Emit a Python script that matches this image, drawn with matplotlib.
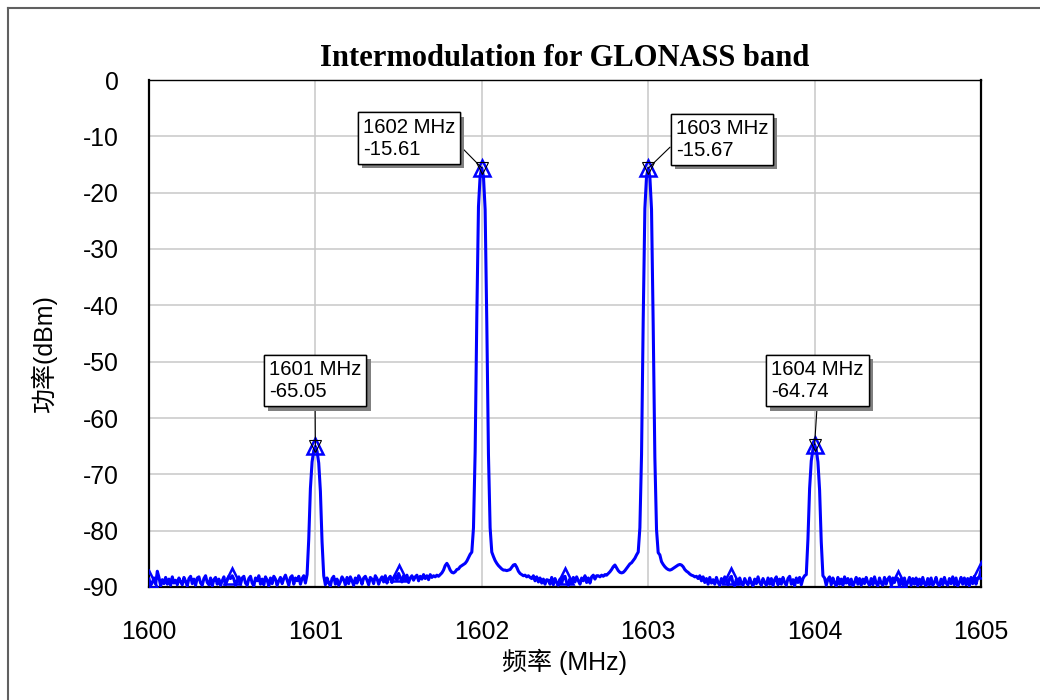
import numpy as np
import matplotlib
matplotlib.use("Agg")
import matplotlib.pyplot as plt
from matplotlib import patheffects
from matplotlib.lines import Line2D

plt.rcParams['font.family'] = ['Liberation Sans', 'Noto Sans CJK SC', 'DejaVu Sans']
plt.rcParams['axes.unicode_minus'] = False

############## Daten ##############
# Spektrum 1600 ... 1605 MHz, Schritt 0.01 MHz (501 Punkte), Werte in dBm
power = [
    -88.6, -89.7, -89.2, -88.4, -89.5, -87.2, -88.3, -89.8, -88.7, -89.4,  # 1600.0
    -88.3, -89.5, -88.6, -89.7, -88.2, -89.3, -88.8, -89.6, -88.4, -89.1,
    -89.6, -88.3, -89.0, -89.8, -88.5, -88.1, -89.4, -88.6, -89.7, -88.4,
    -88.2, -89.3, -89.7, -88.5, -88.0, -89.2, -89.6, -88.4, -89.8, -88.7,
    -88.3, -89.5, -88.6, -89.7, -88.9, -88.2, -89.6, -88.8, -88.1, -88.5,
    -88.0, -88.6, -89.7, -88.9, -88.2, -89.5, -88.4, -88.1, -89.3, -89.7,  # 1600.5
    -88.5, -88.1, -89.3, -89.8, -88.4, -88.9, -88.0, -89.5, -88.6, -89.6,
    -88.2, -88.8, -89.8, -88.4, -89.4, -88.1, -88.6, -89.7, -88.9, -88.3,
    -89.4, -88.5, -87.9, -88.8, -89.7, -88.3, -88.0, -89.5, -88.4, -88.9,
    -88.1, -89.5, -88.5, -88.0, -89.3, -87.8, -81.5, -72.5, -67.8, -65.8,
    -65.05, -65.9, -68.0, -73.0, -82.0, -88.0, -89.6, -88.4, -89.3, -89.8,  # 1601.0
    -88.5, -88.1, -89.5, -88.6, -89.7, -89.1, -88.2, -88.7, -89.6, -88.3,
    -89.4, -88.2, -88.9, -89.7, -88.4, -89.3, -88.0, -88.6, -89.5, -88.4,
    -88.1, -88.8, -89.6, -88.3, -88.6, -89.4, -88.0, -88.5, -89.5, -88.7,
    -88.2, -89.1, -88.0, -89.3, -88.5, -88.1, -89.2, -88.4, -87.9, -88.8,
    -87.6, -88.3, -89.1, -88.0, -88.7, -87.9, -89.2, -88.4, -88.0, -88.8,  # 1601.5
    -88.2, -87.9, -88.9, -88.1, -88.6, -87.8, -88.5, -88.0, -88.7, -87.8,
    -88.3, -88.0, -88.2, -87.9, -88.1, -87.8, -87.5, -87.0, -86.2, -85.8,
    -86.3, -87.0, -87.4, -87.5, -87.3, -86.9, -86.8, -86.4, -86.2, -86.0,
    -85.8, -85.4, -84.8, -84.2, -83.8, -79.5, -66.0, -42.0, -22.5, -17.0,
    -15.61, -17.1, -23.0, -43.0, -66.5, -79.5, -83.8, -84.6, -85.3, -85.8,  # 1602.0
    -86.2, -86.5, -86.8, -87.0, -87.0, -87.1, -87.0, -86.9, -86.5, -86.1,
    -86.0, -86.5, -87.2, -87.6, -87.8, -88.0, -87.9, -88.2, -88.0, -88.3,
    -88.5, -88.0, -88.9, -88.2, -89.1, -88.4, -89.3, -88.6, -89.5, -88.7,
    -88.8, -89.5, -88.3, -89.6, -88.5, -89.2, -89.7, -88.6, -89.4, -88.2,
    -88.1, -89.2, -89.7, -88.5, -89.4, -88.3, -89.1, -88.2, -88.9, -89.5,  # 1602.5
    -88.4, -88.9, -88.0, -89.2, -88.4, -89.3, -88.2, -87.9, -88.6, -88.0,
    -88.0, -88.2, -87.9, -88.1, -87.8, -87.9, -87.6, -87.3, -86.9, -86.4,
    -86.1, -86.6, -87.1, -87.4, -87.5, -87.4, -87.1, -86.7, -86.3, -85.9,
    -85.7, -85.3, -84.9, -84.3, -83.8, -79.5, -66.5, -42.5, -22.8, -17.1,
    -15.67, -17.2, -23.0, -43.5, -67.0, -79.8, -83.9, -84.3, -85.5, -86.0,  # 1603.0
    -86.4, -86.7, -86.9, -87.0, -86.9, -86.7, -86.5, -86.3, -86.1, -86.0,
    -86.1, -86.4, -86.9, -87.2, -87.4, -87.7, -87.9, -88.0, -88.2, -88.1,
    -88.5, -88.0, -88.9, -88.2, -89.2, -88.5, -89.5, -88.3, -89.3, -88.7,
    -89.5, -88.3, -89.2, -89.7, -88.5, -89.4, -88.2, -88.8, -89.6, -88.4,
    -88.1, -89.4, -89.8, -88.6, -89.5, -88.4, -89.3, -89.7, -88.5, -89.2,  # 1603.5
    -89.6, -88.4, -89.3, -89.8, -88.6, -89.4, -88.2, -89.2, -89.7, -88.5,
    -89.2, -89.7, -88.4, -89.5, -88.5, -89.8, -88.7, -88.2, -89.6, -88.6,
    -89.5, -88.3, -89.2, -89.7, -88.5, -88.1, -89.5, -88.7, -89.8, -88.4,
    -89.2, -88.3, -89.6, -88.5, -88.0, -87.8, -81.5, -72.5, -67.6, -65.6,
    -64.74, -65.6, -67.8, -72.8, -82.0, -88.0, -88.4, -89.7, -88.6, -88.2,  # 1604.0
    -89.6, -88.4, -89.3, -89.8, -88.3, -89.5, -88.6, -89.7, -88.2, -89.3,
    -88.5, -89.6, -88.6, -89.8, -89.2, -88.3, -89.5, -88.5, -89.7, -88.6,
    -89.4, -88.3, -89.2, -89.7, -88.5, -89.6, -88.2, -89.3, -89.8, -88.4,
    -89.3, -89.7, -88.3, -89.5, -88.6, -88.2, -89.6, -88.4, -89.2, -88.3,
    -88.5, -89.8, -88.5, -89.6, -88.4, -89.8, -89.2, -88.3, -89.7, -88.5,  # 1604.5
    -89.5, -88.4, -89.8, -88.6, -89.6, -88.3, -89.4, -89.8, -88.5, -89.6,
    -88.4, -89.7, -89.2, -88.3, -89.5, -89.8, -88.6, -89.6, -88.3, -89.3,
    -89.7, -88.5, -89.4, -88.2, -89.6, -88.4, -89.8, -89.2, -88.3, -89.5,
    -88.4, -89.6, -88.5, -89.8, -88.3, -89.4, -88.1, -89.5, -88.4, -88.2,
    -87.0,  # 1605.0
]
freq = np.linspace(1600, 1605, len(power))

# Marker
marker_freqs = [1601, 1602, 1603, 1604]
marker_vals = [-65.05, -15.61, -15.67, -64.74]
marker_labels = ["1601 MHz\n-65.05", "1602 MHz\n-15.61", "1603 MHz\n-15.67", "1604 MHz\n-64.74"]
label_pos = [(1600.998, -53.4), (1601.5625, -10.3), (1603.443, -10.6), (1604.017, -53.4)]
label_relpos = [(0.5, 0.0), (1.0, 0.43), (0.0, 0.45), (0.5, 0.0)]

xticks = [1600, 1601, 1602, 1603, 1604, 1605]
yticks = [0, -10, -20, -30, -40, -50, -60, -70, -80, -90]

############## Zeichnen ##############
fig = plt.figure(figsize=(10.4, 7), dpi=100)
ax = fig.add_axes([149 / 1040, 1 - 587 / 700, 832 / 1040, 507 / 700])

ax.plot(freq, power, color="#0000ff", lw=2.2, marker="^", markevery=50,
        ms=11, mfc="none", mec="#0000ff", mew=1.8, zorder=3)
ax.plot(marker_freqs, marker_vals, ls="none", marker="v", ms=8.5,
        mfc="none", mec="black", mew=0.8, zorder=4)

for i in range(len(marker_freqs)):
    ann = ax.annotate(marker_labels[i], xy=(marker_freqs[i], marker_vals[i]),
                      xytext=label_pos[i], ha="center", va="center",
                      multialignment="left", fontsize=14.7, zorder=5,
                      bbox=dict(boxstyle="square,pad=0.25", fc="white", ec="black", lw=1),
                      arrowprops=dict(arrowstyle="-", color="black", lw=0.8,
                                      relpos=label_relpos[i], shrinkA=0, shrinkB=0))
    ann.get_bbox_patch().set_path_effects([
        patheffects.withSimplePatchShadow(offset=(3, -3), shadow_rgbFace="#808080", alpha=1.0),
        patheffects.Normal()])

ax.set_xlim(1600, 1605)
ax.set_ylim(-90, 0)
ax.set_xticks(xticks)
ax.set_yticks(yticks)
ax.tick_params(axis="both", length=0, labelsize=17.8)
ax.tick_params(axis="x", pad=24)
ax.tick_params(axis="y", pad=22)
ax.grid(True, color="#c8c8c8", lw=1.1)
ax.set_axisbelow(True)
for side in ["left", "bottom", "right"]:
    ax.spines[side].set_linewidth(1.6)
ax.spines["top"].set_linewidth(1.0)

ax.set_title("Intermodulation for GLONASS band", fontsize=22, fontweight="bold",
             family="Liberation Serif", pad=10)
ax.set_xlabel("频率 (MHz)", fontsize=18, labelpad=3)
ax.set_ylabel("功率(dBm)", fontsize=18)
ax.yaxis.set_label_coords(-0.111, 0.46)

# Rahmen
fig.add_artist(Line2D([8 / 1040, 8 / 1040], [0, 1 - 8 / 700], color="#606060", lw=1.5))
fig.add_artist(Line2D([8 / 1040, 1], [1 - 8 / 700, 1 - 8 / 700], color="#606060", lw=1.5))

plt.savefig("out.png", dpi=100)
